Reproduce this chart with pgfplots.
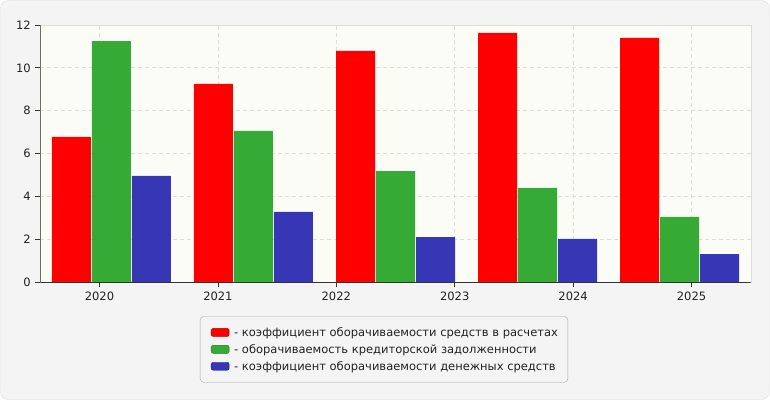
\documentclass[border=0pt]{standalone}
\usepackage{pgfplots}
\pgfplotsset{compat=1.18}
\usepackage{fontspec}
\setmainfont{DejaVu Sans}
\definecolor{pagebg}{HTML}{F4F4F4}
\definecolor{pageborder}{HTML}{DCDCDC}
\definecolor{plotbg}{HTML}{FCFCF7}
\definecolor{gridc}{HTML}{DCDCDC}
\definecolor{cred}{HTML}{FF0000}
\definecolor{cgreen}{HTML}{35AB35}
\definecolor{cblue}{HTML}{3737B5}
\definecolor{axisdark}{HTML}{333333}
\definecolor{labelc}{HTML}{222222}
\begin{document}
\begin{tikzpicture}[x=1pt,y=1pt]
\path[use as bounding box] (0,0) rectangle (770,400);
\draw[fill=pagebg, draw=pageborder, rounded corners=8pt] (0.5,0.5) rectangle (769.5,399.5);
\begin{axis}[
  at={(40.3pt,117.7pt)}, anchor=south west,
  scale only axis, width=710.4pt, height=257.3pt,
  xmin=0, xmax=5, ymin=0, ymax=12,
  ytick={0,2,4,6,8,10,12},
  xtick={0.41667,1.25,2.08333,2.91667,3.75,4.58333},
  xticklabels={2020,2021,2022,2023,2024,2025},
  axis background/.style={fill=plotbg},
  axis line style={draw=gridc},
  grid=major,
  grid style={draw=gridc, dash pattern=on 4pt off 3pt, line width=0.8pt},
  tick align=outside, major tick length=5pt,
  xtick pos=bottom, ytick pos=left,
  tick style={draw=axisdark, line width=0.8pt},
  ticklabel style={font=\fontsize{11.5}{14}\selectfont, text=labelc},
  /pgf/number format/assume math mode=true,
  xticklabel style={yshift=-1pt},
  yticklabel style={xshift=-1pt},
  ybar=0pt, bar width=39pt,
  legend style={
    at={(0.2248,-0.131)}, anchor=north west,
    draw=black!35, fill=pagebg, rounded corners=4pt,
    font=\fontsize{11.5}{14}\selectfont, text=labelc,
    inner xsep=8pt, inner ysep=9pt, row sep=2.5pt,
  },
  legend cell align=left,
  legend image code/.code={\path (0pt,0pt); \draw[#1, rounded corners=2pt] (3pt,-4pt) rectangle (21pt,4pt); \path (24pt,0pt);},
]
\addplot[fill=cred, draw=none, bar shift=-40pt, legend image post style={draw=cred!70!black}] coordinates {(0.5,6.78) (1.5,9.25) (2.5,10.79) (3.5,11.63) (4.5,11.40)};
\addplot[fill=cgreen, draw=none, bar shift=0pt, legend image post style={draw=cgreen!70!black}] coordinates {(0.5,11.25) (1.5,7.06) (2.5,5.19) (3.5,4.40) (4.5,3.05)};
\addplot[fill=cblue, draw=none, bar shift=40pt, legend image post style={draw=cblue!70!black}] coordinates {(0.5,4.96) (1.5,3.28) (2.5,2.11) (3.5,2.02) (4.5,1.32)};
\legend{- коэффициент оборачиваемости средств в расчетах,- оборачиваемость кредиторской задолженности,- коэффициент оборачиваемости денежных средств}
\draw[axisdark, line width=1pt] (rel axis cs:0,1) -- (rel axis cs:0,0) -- (rel axis cs:1,0);
\end{axis}
\end{tikzpicture}
\end{document}
